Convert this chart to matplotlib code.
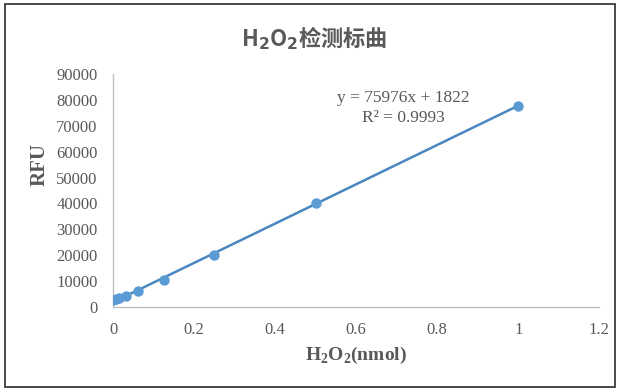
import numpy as np
import matplotlib
matplotlib.use("Agg")
import matplotlib.pyplot as plt
from matplotlib.patches import Rectangle

# data
conc = [0, 0.0078125, 0.015625, 0.03125, 0.0625, 0.125, 0.25, 0.5, 1.0]
rfu = [2500, 3100, 3600, 4300, 6000, 10500, 20200, 40300, 77800]
slope, intercept = 75976, 1822
eq_text = "y = 75976x + 1822"
r2_text = "R² = 0.9993"
xticks = [0, 0.2, 0.4, 0.6, 0.8, 1.0, 1.2]
xticklabels = ["0", "0.2", "0.4", "0.6", "0.8", "1", "1.2"]
yticks = list(range(0, 90001, 10000))

plt.rcParams['mathtext.fontset'] = 'custom'
plt.rcParams['mathtext.rm'] = 'Liberation Serif'
plt.rcParams['mathtext.bf'] = 'Liberation Serif:bold'
plt.rcParams['mathtext.sf'] = 'DejaVu Sans:weight=bold'

grey = "#595959"
blue = "#5b9bd5"
line_blue = "#4a86c0"

fig = plt.figure(figsize=(6.21, 3.90), dpi=100)
ax = fig.add_axes([0.182, 0.213, 0.783, 0.597])

xs = np.array([0, 1.0])
ax.plot(xs, slope * xs + intercept, color=line_blue, lw=1.8, zorder=2)
ax.scatter(conc, rfu, s=42, color=blue, zorder=3)

ax.set_xlim(0, 1.2)
ax.set_ylim(0, 90000)
ax.set_xticks(xticks)
ax.set_xticklabels(xticklabels)
ax.set_yticks(yticks)
ax.tick_params(length=0, labelsize=12, labelcolor=grey)
ax.tick_params(axis="x", pad=11)
ax.tick_params(axis="y", pad=11)
for lab in ax.get_xticklabels() + ax.get_yticklabels():
    lab.set_family("Liberation Serif")

for s in ["top", "right"]:
    ax.spines[s].set_visible(False)
for s in ["left", "bottom"]:
    ax.spines[s].set_color("#bfbfbf")
    ax.spines[s].set_linewidth(1)

ax.set_ylabel("RFU", family="Liberation Serif", fontweight="bold",
              fontsize=15, color=grey)
ax.yaxis.set_label_coords(-0.13, 0.61)
ax.set_xlabel(r"H$_\mathbf{2}$O$_\mathbf{2}$(nmol)", family="Liberation Serif",
              fontweight="bold", fontsize=14, color=grey, labelpad=5)

fig.text(0.506, 0.903, r"H$_\mathsf{2}$O$_\mathsf{2}$检测标曲", ha="center", va="center",
         family=["Noto Sans CJK SC", "DejaVu Sans"], fontweight="bold",
         fontsize=16, color=grey)

ax.text(0.598, 0.933, eq_text + "\n" + r2_text, transform=ax.transAxes,
        ha="center", va="top", family="Liberation Serif", fontsize=12.5,
        color=grey, linespacing=1.4)

fig.patches.append(Rectangle((5 / 621, 3 / 390), 610 / 621, 383 / 390,
                             transform=fig.transFigure, fill=False,
                             edgecolor="#3a3a3a", lw=1.3))

fig.savefig("out.png", dpi=100, facecolor="white")
